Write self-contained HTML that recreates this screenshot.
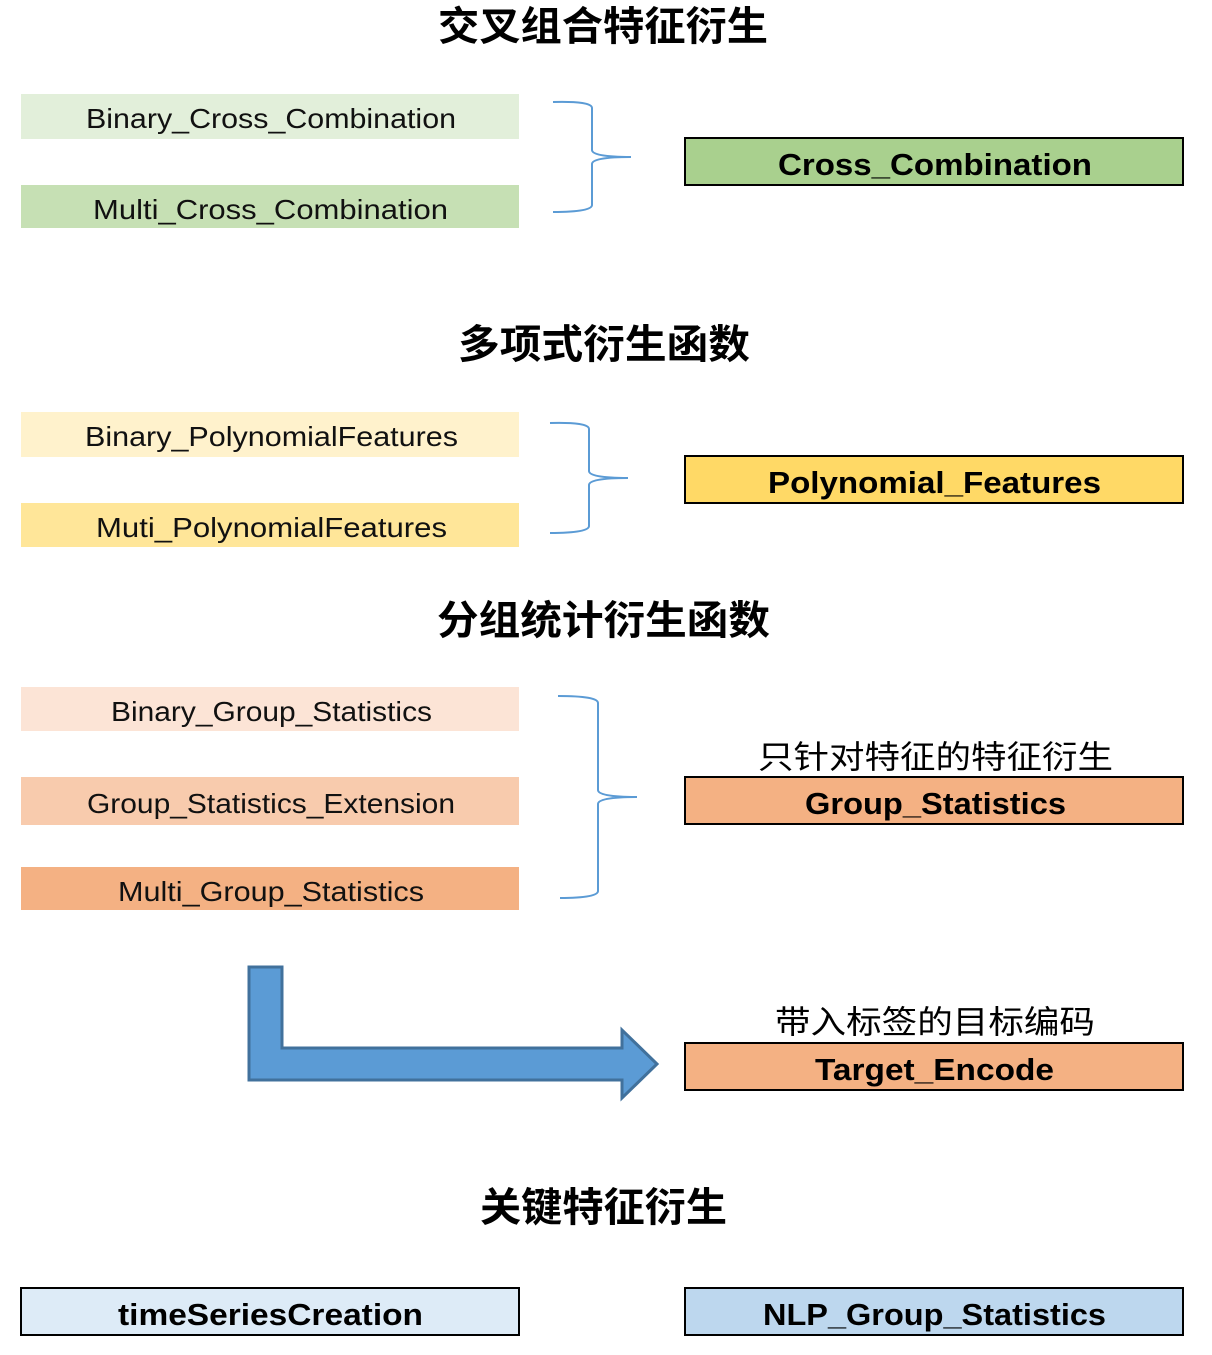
<!DOCTYPE html>
<html><head><meta charset="utf-8"><style>
html,body{margin:0;padding:0;background:#fff;}
svg{display:block;}
.t{font-family:"Liberation Sans","Noto Sans CJK SC",sans-serif;font-size:40px;font-weight:bold;fill:#000;}
.c{font-family:"Liberation Sans","Noto Sans CJK SC",sans-serif;font-size:32px;fill:#000;}
.l{font-family:"Liberation Sans",sans-serif;font-size:28px;fill:#111;}
.b{font-family:"Liberation Sans",sans-serif;font-size:31px;font-weight:bold;fill:#000;}
.br{fill:none;stroke:#5b9bd5;stroke-width:2;}
</style></head><body>
<svg width="1212" height="1355" viewBox="0 0 1212 1355" xmlns="http://www.w3.org/2000/svg">
<!-- titles -->
<text class="t" x="438" y="40" textLength="330" lengthAdjust="spacingAndGlyphs">交叉组合特征衍生</text>
<text class="t" x="458" y="358" textLength="292" lengthAdjust="spacingAndGlyphs">多项式衍生函数</text>
<text class="t" x="437" y="634" textLength="333" lengthAdjust="spacingAndGlyphs">分组统计衍生函数</text>
<text class="t" x="480" y="1221" textLength="247" lengthAdjust="spacingAndGlyphs">关键特征衍生</text>

<!-- section 1 -->
<rect x="21" y="94" width="498" height="45" fill="#e2efda"/>
<text class="l" x="86" y="128" textLength="370" lengthAdjust="spacingAndGlyphs">Binary_Cross_Combination</text>
<rect x="21" y="185" width="498" height="43" fill="#c6e0b4"/>
<text class="l" x="93" y="219" textLength="355" lengthAdjust="spacingAndGlyphs">Multi_Cross_Combination</text>
<path class="br" d="M553 102 Q592 101 592 108 L592 150 Q592 157 631 157 Q592 157 592 164 L592 205 Q592 212 553 212"/>
<rect x="685" y="138" width="498" height="47" fill="#a9d08e" stroke="#000" stroke-width="2"/>
<text class="b" x="778" y="175" textLength="314" lengthAdjust="spacingAndGlyphs">Cross_Combination</text>

<!-- section 2 -->
<rect x="21" y="412" width="498" height="45" fill="#fff2cc"/>
<text class="l" x="85" y="446" textLength="373" lengthAdjust="spacingAndGlyphs">Binary_PolynomialFeatures</text>
<rect x="21" y="503" width="498" height="44" fill="#ffe699"/>
<text class="l" x="96" y="537" textLength="351" lengthAdjust="spacingAndGlyphs">Muti_PolynomialFeatures</text>
<path class="br" d="M550 423 Q589 422 589 429 L589 471 Q589 478 628 478 Q589 478 589 485 L589 526 Q589 533 550 533"/>
<rect x="685" y="456" width="498" height="47" fill="#ffd966" stroke="#000" stroke-width="2"/>
<text class="b" x="768" y="493" textLength="333" lengthAdjust="spacingAndGlyphs">Polynomial_Features</text>

<!-- section 3 -->
<rect x="21" y="687" width="498" height="44" fill="#fce4d6"/>
<text class="l" x="111" y="721" textLength="321" lengthAdjust="spacingAndGlyphs">Binary_Group_Statistics</text>
<rect x="21" y="777" width="498" height="48" fill="#f8cbad"/>
<text class="l" x="87" y="813" textLength="368" lengthAdjust="spacingAndGlyphs">Group_Statistics_Extension</text>
<rect x="21" y="867" width="498" height="43" fill="#f4b183"/>
<text class="l" x="118" y="901" textLength="306" lengthAdjust="spacingAndGlyphs">Multi_Group_Statistics</text>
<path class="br" d="M558 696 Q598 696 598 703 L598 790 Q598 797 637 797 Q598 797 598 804 L598 891 Q598 898 560 898"/>
<text class="c" x="758" y="768" textLength="355" lengthAdjust="spacingAndGlyphs">只针对特征的特征衍生</text>
<rect x="685" y="777" width="498" height="47" fill="#f4b183" stroke="#000" stroke-width="2"/>
<text class="b" x="805" y="814" textLength="261" lengthAdjust="spacingAndGlyphs">Group_Statistics</text>

<!-- arrow -->
<path d="M249 967 L282 967 L282 1048 L622 1048 L622 1030 L657 1064 L622 1098 L622 1080 L249 1080 Z" fill="#5b9bd5" stroke="#41719c" stroke-width="3"/>
<text class="c" x="775" y="1033" textLength="320" lengthAdjust="spacingAndGlyphs">带入标签的目标编码</text>
<rect x="685" y="1043" width="498" height="47" fill="#f4b183" stroke="#000" stroke-width="2"/>
<text class="b" x="815" y="1080" textLength="239" lengthAdjust="spacingAndGlyphs">Target_Encode</text>

<!-- bottom -->
<rect x="21" y="1288" width="498" height="47" fill="#ddebf7" stroke="#000" stroke-width="2"/>
<text class="b" x="118" y="1325" textLength="305" lengthAdjust="spacingAndGlyphs">timeSeriesCreation</text>
<rect x="685" y="1288" width="498" height="47" fill="#bdd7ee" stroke="#000" stroke-width="2"/>
<text class="b" x="763" y="1325" textLength="343" lengthAdjust="spacingAndGlyphs">NLP_Group_Statistics</text>
</svg>
</body></html>
